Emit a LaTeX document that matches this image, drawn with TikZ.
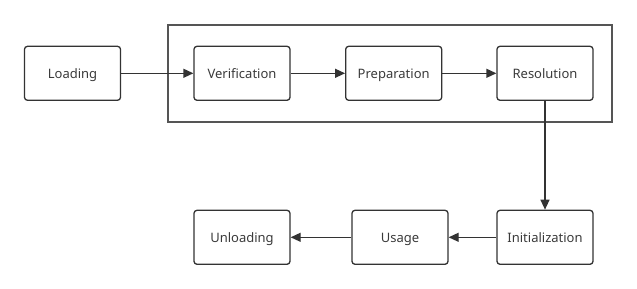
\documentclass[tikz,border=0pt]{standalone}
\usepackage{fontspec}
\setmainfont{Noto Sans}
\usetikzlibrary{arrows.meta}
\definecolor{edge}{HTML}{333333}
\definecolor{frame}{HTML}{555555}
\definecolor{label}{HTML}{3A3A3A}
\begin{document}
\begin{tikzpicture}[x=1pt,y=-1pt,
  stage/.style={draw=edge, line width=1.3pt, rounded corners=3pt, minimum width=96pt,
    minimum height=54pt, inner sep=0pt, text=label, text height=13pt, text depth=1.7pt,
    font=\fontsize{13}{15}\selectfont},
  flow/.style={draw=edge, line width=1.3pt, -{Triangle[length=10pt,width=9pt]}}]
\useasboundingbox (0,0) rectangle (637,289);
% linking phase frame
\draw[frame, line width=2pt] (168,25) rectangle (612,121.5);
% stages
\node[stage] (load) at (72.5,73.3) {Loading};
\node[stage] (ver) at (242,73.3) {Verification};
\node[stage] (prep) at (393.7,73.3) {Preparation};
\node[stage] (res) at (545,73.3) {Resolution};
\node[stage] (init) at (545,237.3) {Initialization};
\node[stage] (use) at (400,237.3) {Usage};
\node[stage] (unl) at (242,237.3) {Unloading};
% connectors
\draw[flow] (load) -- (ver);
\draw[flow] (ver) -- (prep);
\draw[flow] (prep) -- (res);
\draw[flow] (res) -- (init);
\draw[flow] (init) -- (use);
\draw[flow] (use) -- (unl);
\end{tikzpicture}
\end{document}
